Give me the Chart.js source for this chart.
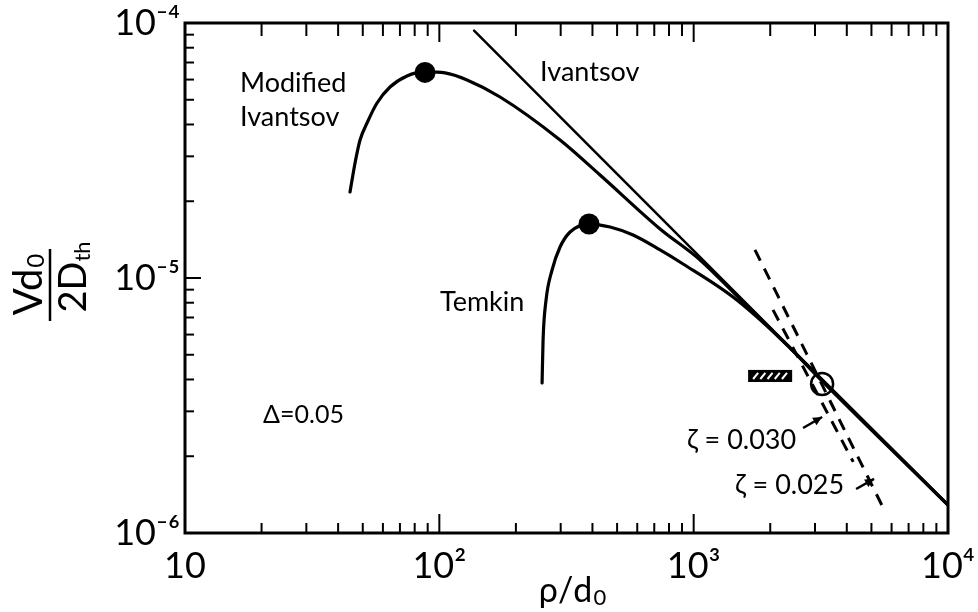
<!DOCTYPE html>
<html><head><meta charset="utf-8">
<script src="https://cdn.jsdelivr.net/npm/chart.js@4.4.1/dist/chart.umd.min.js"></script>
<style>html,body{margin:0;padding:0;background:#fff;} #wrap{width:978px;height:612px;position:relative;}</style>
</head><body><div id="wrap"><canvas id="c"></canvas></div>
<script>
// ---- tick labels ----
const xTickValues = [10, 100, 1000, 10000];
const xTickLabels = ['10', '10²', '10³', '10⁴'];
const yTickValues = [1e-6, 1e-5, 1e-4];
const yTickLabels = ['10⁻⁶', '10⁻⁵', '10⁻⁴'];

// ---- series ----
const ivantsovX = [137, 10000];
const ivantsovY = [9.34e-5, 1.28e-6];
const modIvX = [44.55, 46.62, 48.78, 51.96, 56.89, 64.0, 74.6, 87.85, 105.3, 128.5, 173.3, 298.3, 428.5, 737.9, 1060, 1522, 2621, 10000];
const modIvY = [2.174e-5, 2.825e-5, 3.476e-5, 4.053e-5, 4.857e-5, 5.61e-5, 6.20e-5, 6.43e-5, 6.37e-5, 5.976e-5, 5.126e-5, 3.476e-5, 2.534e-5, 1.557e-5, 1.177e-5, 8.27e-6, 4.857e-6, 1.288e-6];
const temkinX = [253.5, 255.8, 262.8, 277.5, 298.3, 326.6, 387.8, 469.2, 577.9, 737.9, 908.4, 1428, 2246, 3170, 10000];
const temkinY = [3.875e-6, 5.713e-6, 8.20e-6, 1.075e-5, 1.323e-5, 1.515e-5, 1.628e-5, 1.585e-5, 1.474e-5, 1.288e-5, 1.135e-5, 8.42e-6, 5.66e-6, 3.98e-6, 1.288e-6];
const zeta025X = [1742, 5663];
const zeta025Y = [1.29e-5, 1.21e-6];
const zeta030X = [2051, 4240];
const zeta030Y = [7.5e-6, 1.9e-6];
const peakX = [87.85, 387.8];
const peakY = [6.40e-5, 1.628e-5];
const openX = [3199];
const openY = [3.84e-6];
const hatchX = [1637, 2439];
const hatchY = [3.91e-6, 4.36e-6];

// ---- annotation text (data coordinates) ----
const noteText = ['Modified', 'Ivantsov', 'Ivantsov', 'Temkin', 'Δ=0.05', 'ζ = 0.030', 'ζ = 0.025'];
const noteX = [16.45, 16.45, 248.9, 100.6, 20.27, 942, 1455];
const noteY = [5.82e-5, 4.28e-5, 6.43e-5, 8.05e-6, 2.90e-6, 2.315e-6, 1.543e-6];
const noteSize = [27, 27, 27, 27, 25, 27, 27];
// arrows from label to line
const arrowX0 = [2692, 4351], arrowY0 = [2.58e-6, 1.488e-6];
const arrowX1 = [3199, 5121], arrowY1 = [2.85e-6, 1.63e-6];

const FONT = 'Lato, "DejaVu Sans", sans-serif';
const pts = (xs, ys) => xs.map((x, i) => ({x, y: ys[i]}));

function minorList(e0, e1) {
  const out = [];
  for (let e = e0; e < e1; e++) for (let k = 1; k <= 9; k++) out.push(k * Math.pow(10, e));
  out.push(Math.pow(10, e1));
  return out;
}

const framePlugin = {
  id: 'frame',
  afterDraw(chart) {
    const {ctx, chartArea: a, scales: {x, y}} = chart;
    ctx.save();
    ctx.strokeStyle = '#000';
    ctx.lineCap = 'butt';
    ctx.lineWidth = 2;
    minorList(1, 4).forEach(v => {
      const px = x.getPixelForValue(v);
      if (px <= a.left + 1 || px >= a.right - 1) return;
      const major = Math.abs(Math.log10(v) - Math.round(Math.log10(v))) < 1e-9;
      const len = major ? 19 : 10;
      ctx.beginPath(); ctx.moveTo(px, a.bottom); ctx.lineTo(px, a.bottom - len); ctx.stroke();
      ctx.beginPath(); ctx.moveTo(px, a.top); ctx.lineTo(px, a.top + len + (major ? 0 : 3)); ctx.stroke();
    });
    minorList(-6, -4).forEach(v => {
      const py = y.getPixelForValue(v);
      if (py <= a.top + 1 || py >= a.bottom - 1) return;
      const major = Math.abs(Math.log10(v) - Math.round(Math.log10(v))) < 1e-9;
      const len = major ? 16 : 9;
      ctx.beginPath(); ctx.moveTo(a.left, py); ctx.lineTo(a.left + len, py); ctx.stroke();
    });
    ctx.lineWidth = 3;
    ctx.strokeRect(a.left, a.top, a.right - a.left, a.bottom - a.top);

    // hatched box
    const bx0 = x.getPixelForValue(hatchX[0]), bx1 = x.getPixelForValue(hatchX[1]);
    const by0 = y.getPixelForValue(hatchY[1]), by1 = y.getPixelForValue(hatchY[0]);
    ctx.fillStyle = '#000';
    ctx.fillRect(bx0, by0, bx1 - bx0, by1 - by0);
    ctx.strokeStyle = '#fff';
    ctx.lineWidth = 2;
    const n = 5, w = (bx1 - bx0 - 8) / n;
    for (let i = 0; i < n; i++) {
      const sx = bx0 + 5 + i * w;
      ctx.beginPath(); ctx.moveTo(sx, by1 - 3); ctx.lineTo(sx + w * 0.7, by0 + 3); ctx.stroke();
    }

    // annotation text
    ctx.fillStyle = '#000';
    ctx.textAlign = 'left';
    ctx.textBaseline = 'middle';
    noteText.forEach((t, i) => {
      ctx.font = `${noteSize[i]}px ${FONT}`;
      ctx.fillText(t, x.getPixelForValue(noteX[i]), y.getPixelForValue(noteY[i]));
    });
    // arrows
    ctx.strokeStyle = '#000';
    ctx.lineWidth = 2.5;
    arrowX0.forEach((_, i) => {
      const x0 = x.getPixelForValue(arrowX0[i]), y0 = y.getPixelForValue(arrowY0[i]);
      const x1 = x.getPixelForValue(arrowX1[i]), y1 = y.getPixelForValue(arrowY1[i]);
      const ang = Math.atan2(y1 - y0, x1 - x0);
      ctx.beginPath(); ctx.moveTo(x0, y0); ctx.lineTo(x1, y1); ctx.stroke();
      ctx.beginPath();
      ctx.moveTo(x1, y1);
      ctx.lineTo(x1 - 10 * Math.cos(ang - 0.45), y1 - 10 * Math.sin(ang - 0.45));
      ctx.lineTo(x1 - 10 * Math.cos(ang + 0.45), y1 - 10 * Math.sin(ang + 0.45));
      ctx.closePath(); ctx.fill();
    });

    // x title: ρ/d0
    ctx.textBaseline = 'alphabetic';
    ctx.font = `34px ${FONT}`;
    const m1 = ctx.measureText('ρ/d').width;
    ctx.font = `22px ${FONT}`;
    const m2 = ctx.measureText('0').width;
    const cx = 572;
    let sx = cx - (m1 + m2) / 2;
    ctx.font = `34px ${FONT}`;
    ctx.fillText('ρ/d', sx, 602);
    ctx.font = `22px ${FONT}`;
    ctx.fillText('0', sx + m1 + 1, 605);

    // y title: fraction Vd0 / 2Dth, rotated
    ctx.save();
    ctx.translate(50, 285);
    ctx.rotate(-Math.PI / 2);
    ctx.font = `40px ${FONT}`;
    const n1 = ctx.measureText('Vd').width;
    ctx.font = `24px ${FONT}`;
    const n2 = ctx.measureText('0').width;
    let ux = -(n1 + n2) / 2;
    ctx.textBaseline = 'alphabetic';
    ctx.font = `40px ${FONT}`;
    ctx.fillText('Vd', ux, -8);
    ctx.font = `24px ${FONT}`;
    ctx.fillText('0', ux + n1 + 1, -6);
    ctx.lineWidth = 2.5;
    ctx.beginPath(); ctx.moveTo(-36, 0); ctx.lineTo(36, 0); ctx.stroke();
    ctx.font = `38px ${FONT}`;
    const d1 = ctx.measureText('2D').width;
    ctx.font = `22px ${FONT}`;
    const d2 = ctx.measureText('th').width;
    ux = -(d1 + d2) / 2 + 8;
    ctx.font = `38px ${FONT}`;
    ctx.fillText('2D', ux, 36);
    ctx.font = `22px ${FONT}`;
    ctx.fillText('th', ux + d1, 40);
    ctx.restore();

    ctx.restore();
  }
};

const lineDs = (data, width, dash) => ({
  type: 'line', data, borderColor: '#000', borderWidth: width, borderDash: dash || [],
  pointRadius: 0, fill: false, cubicInterpolationMode: 'monotone', borderCapStyle: 'round'
});

new Chart(document.getElementById('c'), {
  data: {
    datasets: [
      lineDs(pts(ivantsovX, ivantsovY), 2.5),
      lineDs(pts(modIvX, modIvY), 3.2),
      lineDs(pts(temkinX, temkinY), 3.2),
      Object.assign(lineDs(pts(zeta025X, zeta025Y), 3, [12, 9]), {borderCapStyle: 'butt'}),
      Object.assign(lineDs(pts(zeta030X, zeta030Y), 3, [12, 9]), {borderCapStyle: 'butt'}),
      {type: 'scatter', data: pts(peakX, peakY), pointRadius: 10.5, pointBackgroundColor: '#000', pointBorderColor: '#000', pointBorderWidth: 0},
      {type: 'scatter', data: pts(openX, openY), pointRadius: 11, pointBackgroundColor: '#fff', pointBorderColor: '#000', pointBorderWidth: 2.5}
    ]
  },
  options: {
    responsive: true, maintainAspectRatio: false, animation: false,
    layout: {autoPadding: false, padding: {top: 23, right: 30, left: 0, bottom: 0}},
    plugins: {legend: {display: false}, tooltip: {enabled: false}},
    scales: {
      x: {
        type: 'logarithmic', min: 10, max: 10000,
        afterBuildTicks: s => { s.ticks = xTickValues.map(v => ({value: v})); },
        afterFit: s => { s.height = 79; s.paddingLeft = 0; s.paddingRight = 0; },
        grid: {display: false, drawTicks: false},
        border: {display: false},
        ticks: {autoSkip: false, maxRotation: 0, padding: 12, color: '#000',
          font: {family: FONT, size: 36}, callback: (v, i) => xTickLabels[i]}
      },
      y: {
        type: 'logarithmic', min: 1e-6, max: 1e-4,
        afterBuildTicks: s => { s.ticks = yTickValues.map(v => ({value: v})); },
        afterFit: s => { s.width = 185; s.paddingTop = 0; s.paddingBottom = 0; },
        grid: {display: false, drawTicks: false},
        border: {display: false},
        ticks: {autoSkip: false, padding: 5, color: '#000',
          font: {family: FONT, size: 36}, callback: (v, i) => yTickLabels[i]}
      }
    }
  },
  plugins: [framePlugin]
});
</script>
</body></html>
